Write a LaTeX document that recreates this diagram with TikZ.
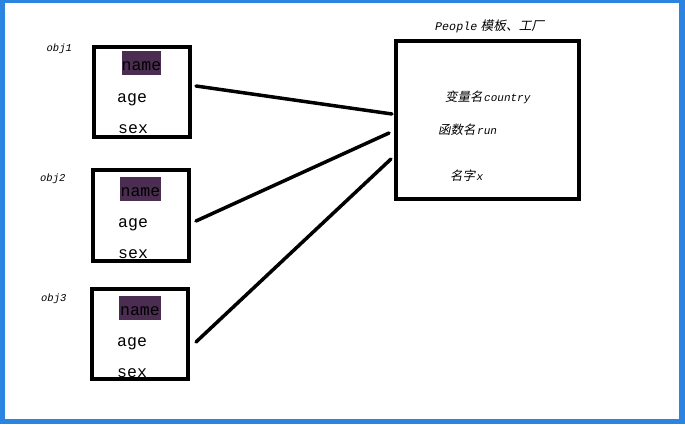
\documentclass[tikz,border=0pt]{standalone}
\usepackage{fontspec}
\newfontfamily\mono{Liberation Mono}
\newfontfamily\cjk[FakeSlant=0.2]{Noto Sans CJK SC}
\definecolor{frameblue}{RGB}{42,132,224}
\definecolor{hlpurple}{RGB}{74,45,80}
\begin{document}
\begin{tikzpicture}[x=1bp,y=-1bp,
  objbox/.style={draw, line width=3.5bp, inner sep=0pt, minimum width=96bp, minimum height=90bp},
  tplbox/.style={draw, line width=3.5bp, inner sep=0pt, minimum width=183bp, minimum height=158bp},
  conn/.style={line width=3.5bp, line cap=round},
  field/.style={anchor=base west, inner sep=0pt, text=black, font=\mono\fontsize{16.5bp}{18bp}\selectfont},
  hl/.style={anchor=base, inner sep=0pt, fill=hlpurple, text=black, text height=19bp, text depth=5bp, minimum width=39bp, font=\mono\fontsize{16.5bp}{18bp}\selectfont},
  objlabel/.style={anchor=base west, inner sep=0pt, font=\mono\itshape\fontsize{10.5bp}{12bp}\selectfont},
  member/.style={anchor=base west, inner sep=0pt}
]
\useasboundingbox (0,0) rectangle (685,424);
\fill[frameblue] (0,0) rectangle (685,424);
\fill[white] (4.5,2.7) rectangle (679,419);

% object boxes
\node[objbox] (b1) at (142,92) {};
\node[objbox, minimum height=91bp] (b2) at (141,215.5) {};
\node[objbox] (b3) at (140,334) {};

% template box
\node[tplbox] (tpl) at (487.5,120) {};

% labels
\node[objlabel] (o1) at (46.5,51.5) {obj1};
\node[objlabel] (o2) at (40,181) {obj2};
\node[objlabel] (o3) at (41,301) {obj3};

\node[member] (title) at (435,30.5)
  {{\mono\itshape\fontsize{11.7bp}{13bp}\selectfont People} {\cjk\fontsize{12.7bp}{14bp}\selectfont 模板、工厂}};

\node[member] (m1) at (445,101)
  {{\cjk\fontsize{12.5bp}{14bp}\selectfont 变量名}\kern1.5bp{\mono\itshape\fontsize{11bp}{13bp}\selectfont country}};
\node[member] (m2) at (438,134)
  {{\cjk\fontsize{12.5bp}{14bp}\selectfont 函数名}\kern1.5bp{\mono\itshape\fontsize{11bp}{13bp}\selectfont run}};
\node[member] (m3) at (450,180)
  {{\cjk\fontsize{12.5bp}{14bp}\selectfont 名字}\kern1.5bp{\mono\itshape\fontsize{11bp}{13bp}\selectfont x}};

% fields
\node[hl] (n1) at (141.5,70) {name};
\node[field] (a1) at (117,102) {age};
\node[field] (s1) at (118,133) {sex};

\node[hl, minimum width=41bp] (n2) at (140.5,196) {name};
\node[field] (a2) at (118,227) {age};
\node[field] (s2) at (118,258) {sex};

\node[hl, minimum width=42bp] (n3) at (140,315) {name};
\node[field] (a3) at (117,346) {age};
\node[field] (s3) at (117,377) {sex};

% connector ends
\coordinate (e1) at (196,86);
\coordinate (t1) at (392,114);
\coordinate (e2) at (196,221);
\coordinate (t2) at (389,133);
\coordinate (e3) at (196,342);
\coordinate (t3) at (391,159);

\draw[conn] (e1) -- (t1);
\draw[conn] (e2) -- (t2);
\draw[conn] (e3) -- (t3);
\end{tikzpicture}
\end{document}
